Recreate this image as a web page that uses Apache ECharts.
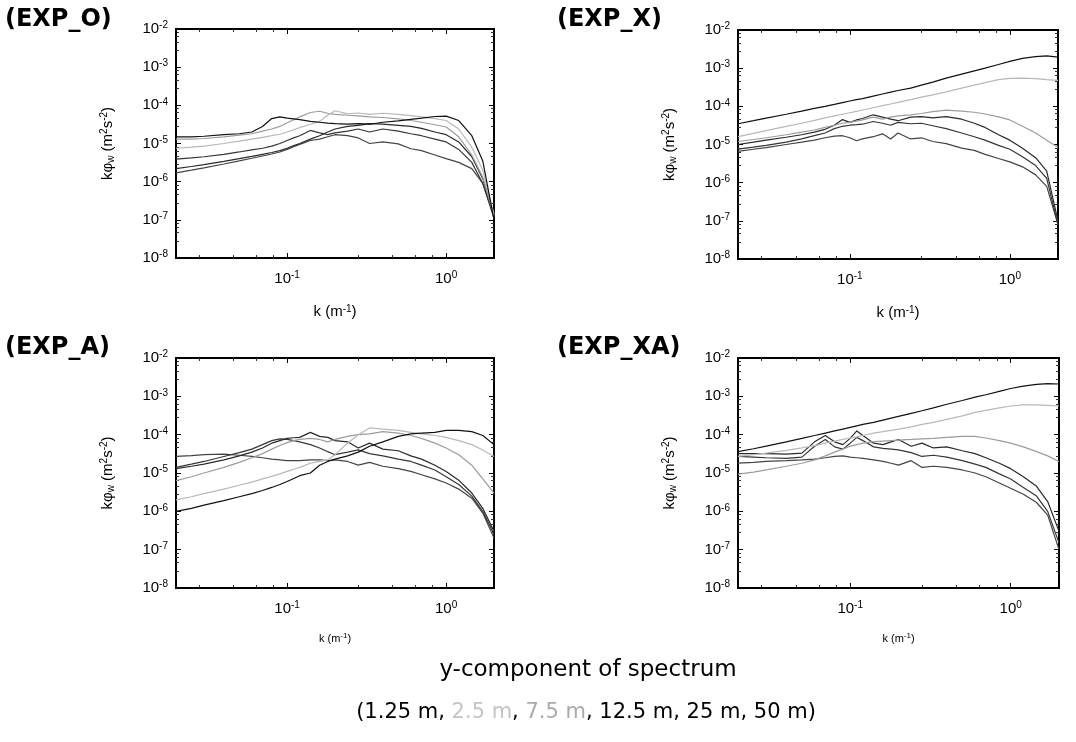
<!DOCTYPE html>
<html>
<head>
<meta charset="utf-8">
<script src="https://cdn.jsdelivr.net/npm/echarts@6/dist/echarts.min.js"></script>
<style>
  html, body { margin: 0; padding: 0; background: #fff; }
  #chart { width: 1076px; height: 742px; }
</style>
</head>
<body>
<div id="chart"></div>
<script>
// wavenumber samples (m^-1)
const k = [
  0.02, 0.025, 0.03, 0.04, 0.05, 0.06, 0.07, 0.08, 0.09, 0.1,
  0.11, 0.12, 0.14, 0.16, 0.18, 0.2, 0.24, 0.28, 0.33, 0.4,
  0.5, 0.6, 0.7, 0.85, 1.0, 1.2, 1.45, 1.7, 2.0
];

const heights = ['1.25 m', '2.5 m', '7.5 m', '12.5 m', '25 m', '50 m'];
const panelNames = ['(EXP_O)', '(EXP_X)', '(EXP_A)', '(EXP_XA)'];

// EXP_O
const expO_h1p25 = [
  1.5e-5, 1.5e-5, 1.55e-5, 1.7e-5, 1.8e-5, 2.0e-5, 2.8e-5, 4.5e-5, 5.0e-5, 4.6e-5,
  4.4e-5, 4.2e-5, 3.8e-5, 3.6e-5, 3.4e-5, 3.3e-5, 3.2e-5, 3.3e-5, 3.2e-5, 3.6e-5,
  3.9e-5, 4.3e-5, 4.6e-5, 5.1e-5, 5.2e-5, 4.0e-5, 1.6e-5, 3.5e-6, 1.0e-7
];
const expO_h2p5 = [
  7.5e-6, 8.0e-6, 8.5e-6, 1.0e-5, 1.15e-5, 1.3e-5, 1.45e-5, 1.6e-5, 1.75e-5, 2.0e-5,
  2.3e-5, 2.6e-5, 3.2e-5, 3.8e-5, 5.5e-5, 7.2e-5, 6.0e-5, 6.3e-5, 5.8e-5, 6.2e-5,
  5.8e-5, 5.4e-5, 5.0e-5, 4.5e-5, 4.0e-5, 2.4e-5, 8.0e-6, 2.0e-6, 1.4e-7
];
const expO_h7p5 = [
  1.3e-5, 1.3e-5, 1.35e-5, 1.5e-5, 1.65e-5, 1.8e-5, 2.1e-5, 2.4e-5, 2.8e-5, 3.5e-5,
  4.2e-5, 5.0e-5, 6.5e-5, 7.0e-5, 6.2e-5, 5.8e-5, 5.5e-5, 5.3e-5, 5.0e-5, 4.8e-5,
  4.4e-5, 4.0e-5, 3.6e-5, 3.1e-5, 2.7e-5, 1.5e-5, 5.0e-6, 1.3e-6, 1.3e-7
];
const expO_h12p5 = [
  2.2e-6, 2.5e-6, 2.8e-6, 3.4e-6, 4.0e-6, 4.6e-6, 5.2e-6, 5.8e-6, 6.5e-6, 7.5e-6,
  8.8e-6, 1.0e-5, 1.3e-5, 1.6e-5, 2.0e-5, 2.4e-5, 2.8e-5, 3.0e-5, 3.3e-5, 3.2e-5,
  3.0e-5, 2.8e-5, 2.5e-5, 2.0e-5, 1.7e-5, 1.1e-5, 4.5e-6, 1.2e-6, 1.3e-7
];
const expO_h25 = [
  3.9e-6, 4.2e-6, 4.5e-6, 5.2e-6, 6.0e-6, 6.8e-6, 7.5e-6, 8.5e-6, 1.0e-5, 1.2e-5,
  1.4e-5, 1.6e-5, 2.2e-5, 1.9e-5, 1.7e-5, 1.9e-5, 2.1e-5, 2.4e-5, 2.0e-5, 2.4e-5,
  2.1e-5, 1.8e-5, 1.6e-5, 1.3e-5, 1.1e-5, 7.0e-6, 3.2e-6, 9.0e-7, 1.2e-7
];
const expO_h50 = [
  1.7e-6, 2.0e-6, 2.3e-6, 2.9e-6, 3.5e-6, 4.1e-6, 4.7e-6, 5.3e-6, 6.0e-6, 7.0e-6,
  8.2e-6, 9.5e-6, 1.2e-5, 1.3e-5, 1.5e-5, 1.7e-5, 1.6e-5, 1.4e-5, 1.0e-5, 1.1e-5,
  9.8e-6, 7.3e-6, 6.5e-6, 5.0e-6, 4.0e-6, 3.2e-6, 2.2e-6, 9.0e-7, 1.1e-7
];

// EXP_X
const expX_h1p25 = [
  3.5e-5, 4.2e-5, 4.9e-5, 6.2e-5, 7.5e-5, 8.8e-5, 1.0e-4, 1.12e-4, 1.25e-4, 1.38e-4,
  1.5e-4, 1.6e-4, 1.85e-4, 2.1e-4, 2.35e-4, 2.6e-4, 3.0e-4, 3.6e-4, 4.3e-4, 5.5e-4,
  7.0e-4, 8.5e-4, 1.0e-3, 1.25e-3, 1.5e-3, 1.8e-3, 2.0e-3, 2.1e-3, 1.95e-3
];
const expX_h2p5 = [
  1.6e-5, 1.95e-5, 2.3e-5, 3.0e-5, 3.6e-5, 4.3e-5, 5.0e-5, 5.6e-5, 6.2e-5, 6.8e-5,
  7.4e-5, 8.0e-5, 9.2e-5, 1.04e-4, 1.15e-4, 1.27e-4, 1.5e-4, 1.75e-4, 2.0e-4, 2.4e-4,
  3.0e-4, 3.6e-4, 4.2e-4, 5.0e-4, 5.4e-4, 5.5e-4, 5.3e-4, 5.0e-4, 4.8e-4
];
const expX_h7p5 = [
  1.2e-5, 1.35e-5, 1.5e-5, 1.8e-5, 2.1e-5, 2.4e-5, 2.8e-5, 3.2e-5, 3.6e-5, 3.8e-5,
  4.1e-5, 4.4e-5, 5.2e-5, 4.6e-5, 5.2e-5, 5.6e-5, 6.0e-5, 6.5e-5, 7.3e-5, 8.0e-5,
  7.5e-5, 7.0e-5, 6.3e-5, 5.3e-5, 4.4e-5, 3.0e-5, 2.0e-5, 1.3e-5, 8.5e-6
];
const expX_h12p5 = [
  1.0e-5, 1.15e-5, 1.3e-5, 1.55e-5, 1.8e-5, 2.1e-5, 2.5e-5, 3.2e-5, 4.5e-5, 3.8e-5,
  4.4e-5, 4.8e-5, 6.0e-5, 5.2e-5, 4.6e-5, 4.2e-5, 5.2e-5, 5.4e-5, 5.0e-5, 5.4e-5,
  4.6e-5, 3.6e-5, 2.8e-5, 1.8e-5, 1.3e-5, 8.0e-6, 4.5e-6, 2.0e-6, 1.0e-7
];
const expX_h25 = [
  7.6e-6, 8.5e-6, 9.5e-6, 1.15e-5, 1.4e-5, 1.7e-5, 2.0e-5, 2.6e-5, 3.0e-5, 3.2e-5,
  3.3e-5, 3.4e-5, 4.0e-5, 3.6e-5, 3.2e-5, 3.8e-5, 3.5e-5, 3.6e-5, 3.1e-5, 2.6e-5,
  2.0e-5, 1.6e-5, 1.3e-5, 9.5e-6, 7.5e-6, 4.8e-6, 2.8e-6, 1.3e-6, 8.0e-8
];
const expX_h50 = [
  6.6e-6, 7.5e-6, 8.3e-6, 1.0e-5, 1.15e-5, 1.3e-5, 1.5e-5, 1.65e-5, 1.7e-5, 1.5e-5,
  1.25e-5, 1.4e-5, 1.6e-5, 1.9e-5, 1.4e-5, 2.0e-5, 1.4e-5, 1.5e-5, 1.2e-5, 1.05e-5,
  8.0e-6, 7.0e-6, 5.5e-6, 4.3e-6, 3.5e-6, 2.6e-6, 1.6e-6, 8.0e-7, 8.0e-8
];

// EXP_A
const expA_h1p25 = [
  1.0e-6, 1.2e-6, 1.45e-6, 1.9e-6, 2.4e-6, 2.9e-6, 3.5e-6, 4.2e-6, 5.0e-6, 6.0e-6,
  7.2e-6, 8.5e-6, 1.0e-5, 1.6e-5, 2.0e-5, 2.3e-5, 2.8e-5, 3.5e-5, 5.0e-5, 6.5e-5,
  9.0e-5, 1.05e-4, 1.1e-4, 1.15e-4, 1.3e-4, 1.3e-4, 1.2e-4, 9.5e-5, 5.5e-5
];
const expA_h2p5 = [
  2.0e-6, 2.4e-6, 2.9e-6, 3.8e-6, 4.8e-6, 5.8e-6, 7.0e-6, 8.2e-6, 9.5e-6, 1.1e-5,
  1.25e-5, 1.4e-5, 1.8e-5, 2.0e-5, 2.2e-5, 3.0e-5, 6.0e-5, 1.0e-4, 1.5e-4, 1.4e-4,
  1.3e-4, 1.15e-4, 1.05e-4, 9.5e-5, 8.5e-5, 7.0e-5, 5.5e-5, 4.0e-5, 2.7e-5
];
const expA_h7p5 = [
  6.3e-6, 8.0e-6, 1.0e-5, 1.4e-5, 1.9e-5, 2.5e-5, 3.2e-5, 4.2e-5, 5.2e-5, 6.2e-5,
  7.0e-5, 7.5e-5, 8.0e-5, 7.5e-5, 6.5e-5, 7.5e-5, 9.0e-5, 1.0e-4, 1.05e-4, 1.2e-4,
  1.1e-4, 9.5e-5, 8.0e-5, 6.0e-5, 4.5e-5, 3.0e-5, 1.6e-5, 7.0e-6, 3.0e-6
];
const expA_h12p5 = [
  1.3e-5, 1.5e-5, 1.7e-5, 2.2e-5, 2.8e-5, 3.5e-5, 4.5e-5, 6.0e-5, 7.0e-5, 8.0e-5,
  8.3e-5, 8.5e-5, 1.15e-4, 9.0e-5, 8.5e-5, 7.0e-5, 6.5e-5, 4.5e-5, 6.0e-5, 4.2e-5,
  3.8e-5, 2.8e-5, 2.3e-5, 1.6e-5, 1.1e-5, 6.5e-6, 3.0e-6, 1.2e-6, 3.0e-7
];
const expA_h25 = [
  1.4e-5, 1.7e-5, 2.0e-5, 2.7e-5, 3.4e-5, 4.2e-5, 5.5e-5, 7.0e-5, 7.8e-5, 7.5e-5,
  7.0e-5, 6.5e-5, 5.5e-5, 4.5e-5, 3.6e-5, 3.0e-5, 3.5e-5, 4.0e-5, 3.2e-5, 2.8e-5,
  2.3e-5, 2.0e-5, 1.6e-5, 1.2e-5, 8.0e-6, 5.0e-6, 2.5e-6, 1.0e-6, 2.5e-7
];
const expA_h50 = [
  2.7e-5, 2.85e-5, 3.0e-5, 3.1e-5, 2.9e-5, 2.7e-5, 2.5e-5, 2.3e-5, 2.2e-5, 2.1e-5,
  2.1e-5, 2.1e-5, 2.2e-5, 2.2e-5, 2.1e-5, 2.2e-5, 2.0e-5, 1.6e-5, 1.9e-5, 1.5e-5,
  1.3e-5, 1.1e-5, 9.0e-6, 7.0e-6, 5.5e-6, 3.8e-6, 2.2e-6, 9.0e-7, 2.0e-7
];

// EXP_XA
const expXA_h1p25 = [
  3.6e-5, 4.3e-5, 5.0e-5, 6.5e-5, 8.0e-5, 9.5e-5, 1.1e-4, 1.25e-4, 1.4e-4, 1.55e-4,
  1.7e-4, 1.85e-4, 2.1e-4, 2.4e-4, 2.7e-4, 3.0e-4, 3.6e-4, 4.2e-4, 5.0e-4, 6.2e-4,
  7.8e-4, 9.5e-4, 1.1e-3, 1.35e-3, 1.6e-3, 1.85e-3, 2.05e-3, 2.15e-3, 2.1e-3
];
const expXA_h2p5 = [
  2.7e-5, 3.0e-5, 3.3e-5, 3.9e-5, 4.5e-5, 5.2e-5, 6.0e-5, 6.8e-5, 7.5e-5, 8.2e-5,
  8.8e-5, 9.5e-5, 1.1e-4, 1.2e-4, 1.3e-4, 1.4e-4, 1.6e-4, 1.85e-4, 2.1e-4, 2.5e-4,
  3.1e-4, 3.8e-4, 4.3e-4, 5.0e-4, 5.6e-4, 6.0e-4, 6.0e-4, 5.8e-4, 5.6e-4
];
const expXA_h7p5 = [
  9.3e-6, 1.05e-5, 1.2e-5, 1.5e-5, 1.8e-5, 2.2e-5, 2.8e-5, 3.5e-5, 4.2e-5, 5.0e-5,
  5.5e-5, 6.0e-5, 6.6e-5, 6.8e-5, 7.0e-5, 7.2e-5, 7.5e-5, 7.8e-5, 8.0e-5, 8.5e-5,
  9.0e-5, 9.0e-5, 8.2e-5, 7.0e-5, 6.0e-5, 4.8e-5, 3.6e-5, 2.8e-5, 2.0e-5
];
const expXA_h12p5 = [
  3.2e-5, 3.2e-5, 3.2e-5, 3.1e-5, 3.3e-5, 6.5e-5, 9.5e-5, 6.5e-5, 5.5e-5, 8.0e-5,
  1.25e-4, 9.5e-5, 6.0e-5, 5.5e-5, 6.5e-5, 7.5e-5, 5.0e-5, 6.0e-5, 4.5e-5, 4.8e-5,
  3.8e-5, 3.2e-5, 2.5e-5, 1.8e-5, 1.3e-5, 8.0e-6, 4.5e-6, 1.8e-6, 3.0e-7
];
const expXA_h25 = [
  2.7e-5, 2.6e-5, 2.5e-5, 2.4e-5, 2.6e-5, 5.0e-5, 7.5e-5, 4.8e-5, 4.2e-5, 6.0e-5,
  8.5e-5, 7.0e-5, 4.8e-5, 4.4e-5, 4.2e-5, 4.0e-5, 3.4e-5, 2.7e-5, 2.9e-5, 2.6e-5,
  2.1e-5, 1.7e-5, 1.4e-5, 9.5e-6, 7.0e-6, 4.2e-6, 2.5e-6, 1.0e-6, 1.5e-7
];
const expXA_h50 = [
  1.8e-5, 1.9e-5, 2.0e-5, 2.1e-5, 2.2e-5, 2.3e-5, 2.5e-5, 2.7e-5, 2.8e-5, 2.6e-5,
  2.5e-5, 2.4e-5, 2.2e-5, 2.0e-5, 1.8e-5, 1.6e-5, 2.1e-5, 1.4e-5, 1.5e-5, 1.4e-5,
  1.2e-5, 1.0e-5, 8.0e-6, 5.5e-6, 4.0e-6, 2.8e-6, 1.7e-6, 8.0e-7, 1.0e-7
];

const panels = [
  [expO_h1p25, expO_h2p5, expO_h7p5, expO_h12p5, expO_h25, expO_h50],
  [expX_h1p25, expX_h2p5, expX_h7p5, expX_h12p5, expX_h25, expX_h50],
  [expA_h1p25, expA_h2p5, expA_h7p5, expA_h12p5, expA_h25, expA_h50],
  [expXA_h1p25, expXA_h2p5, expXA_h7p5, expXA_h12p5, expXA_h25, expXA_h50]
];

// one grey shade per height, as in the printed figure
const lineColors = ['#111111', '#b8b8b8', '#9c9c9c', '#2a2a2a', '#363636', '#444444'];

const gridBoxes = [
  { left: 176, top: 29, width: 318, height: 229 },
  { left: 738, top: 30, width: 320, height: 229 },
  { left: 176, top: 358, width: 318, height: 230 },
  { left: 738, top: 358, width: 321, height: 230 }
];

const FONT = 'Liberation Sans, Arial, sans-serif';

// only label whole decades, as 10^n
const decadeLabel = (v) => {
  const e = Math.log10(v);
  const r = Math.round(e);
  if (Math.abs(e - r) > 1e-6) return '';
  return '10{sup|' + r + '}';
};

const supRich = {
  sup: { fontSize: 10, verticalAlign: 'top', fontFamily: FONT, color: '#000', padding: [0, 0, 7, 0] },
  sub: { fontSize: 10, verticalAlign: 'bottom', fontFamily: FONT, color: '#000', padding: [6, 0, 0, 0] }
};

const chart = echarts.init(document.getElementById('chart'), null, { renderer: 'canvas' });

const grid = gridBoxes.map((b) => ({
  ...b,
  show: true,
  borderColor: '#000',
  borderWidth: 2,
  backgroundColor: 'transparent'
}));

const tickStyle = {
  axisTick: { inside: true, length: 5, lineStyle: { color: '#000', width: 1 } },
  minorTick: { show: true, splitNumber: 5, length: 3, lineStyle: { color: '#333' } },
  splitLine: { show: false },
  axisLine: { show: false }
};

const xAxis = gridBoxes.map((b, i) => ({
  type: 'log',
  logBase: 10,
  gridIndex: i,
  min: 0.02,
  max: 2,
  ...tickStyle,
  axisLabel: {
    formatter: decadeLabel,
    color: '#000',
    fontSize: 15,
    fontFamily: FONT,
    margin: 12,
    rich: supRich
  },
  name: 'k (m{sup|-1})',
  nameLocation: 'middle',
  nameGap: i < 2 ? 46 : 44,
  nameTextStyle: {
    color: '#000',
    fontSize: i < 2 ? 15 : 11,
    fontFamily: FONT,
    rich: {
      sup: { fontSize: i < 2 ? 10 : 8, verticalAlign: 'top', fontFamily: FONT, color: '#000', padding: [0, 0, 6, 0] }
    }
  }
}));

const yAxis = gridBoxes.map((b, i) => ({
  type: 'log',
  logBase: 10,
  gridIndex: i,
  min: 1e-8,
  max: 1e-2,
  ...tickStyle,
  axisLabel: {
    formatter: decadeLabel,
    color: '#000',
    fontSize: 15,
    fontFamily: FONT,
    margin: 8,
    rich: supRich
  },
  name: 'kφ{sub|w} (m{sup|2}s{sup|-2})',
  nameLocation: 'middle',
  nameRotate: 90,
  nameGap: 60,
  nameTextStyle: { color: '#000', fontSize: 15, fontFamily: FONT, rich: supRich }
}));

// tick marks on the top and right frame edges too
gridBoxes.forEach((b, i) => {
  xAxis.push({
    type: 'log', logBase: 10, gridIndex: i, min: 0.02, max: 2,
    position: 'top', ...tickStyle, axisLabel: { show: false }
  });
  yAxis.push({
    type: 'log', logBase: 10, gridIndex: i, min: 1e-8, max: 1e-2,
    position: 'right', ...tickStyle, axisLabel: { show: false }
  });
});

const series = [];
panels.forEach((panel, p) => {
  panel.forEach((vals, h) => {
    series.push({
      name: heights[h],
      type: 'line',
      xAxisIndex: p,
      yAxisIndex: p,
      data: k.map((kk, j) => [kk, vals[j]]),
      showSymbol: false,
      lineStyle: { color: lineColors[h], width: 1.2 },
      z: 10 - h
    });
  });
});

const labelPos = [[5, 20], [557, 20], [5, 348], [557, 348]];
const graphic = panelNames.map((n, i) => ({
  type: 'text',
  x: labelPos[i][0],
  y: labelPos[i][1],
  style: {
    text: n,
    font: 'bold 24px "DejaVu Sans", sans-serif',
    fill: '#000',
    align: 'left',
    verticalAlign: 'middle'
  }
}));

graphic.push({
  type: 'text',
  x: 588,
  y: 670,
  style: {
    text: 'y-component of spectrum',
    font: '23px "DejaVu Sans", sans-serif',
    fill: '#000',
    align: 'center',
    verticalAlign: 'middle'
  }
});

graphic.push({
  type: 'text',
  x: 586,
  y: 713,
  style: {
    text: '(1.25 m, {g1|2.5 m}, {g2|7.5 m}, 12.5 m, 25 m, 50 m)',
    font: '21px "DejaVu Sans", sans-serif',
    fill: '#000',
    align: 'center',
    verticalAlign: 'middle',
    rich: {
      g1: { fill: '#c4c4c4', font: '21px "DejaVu Sans", sans-serif' },
      g2: { fill: '#aaaaaa', font: '21px "DejaVu Sans", sans-serif' }
    }
  }
});

chart.setOption({
  animation: false,
  backgroundColor: '#fff',
  grid,
  xAxis,
  yAxis,
  series,
  graphic
});
</script>
</body>
</html>
